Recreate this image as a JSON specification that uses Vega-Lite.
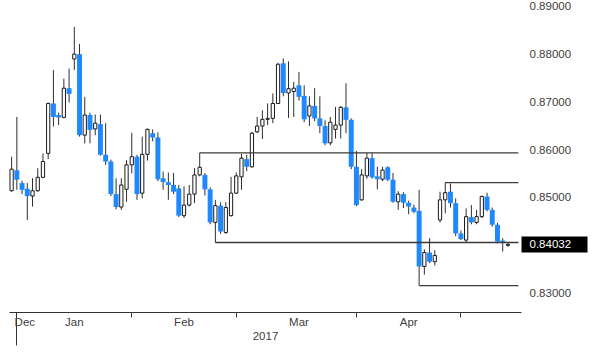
{
  "$schema": "https://vega.github.io/schema/vega-lite/v6.json",
  "width": 512,
  "height": 312,
  "autosize": {"type": "none"},
  "padding": {"left": 9, "top": 0, "right": 79, "bottom": 41},
  "background": "white",
  "config": {"view": {"stroke": null}, "font": "Liberation Sans"},
  "datasets": {
    "candles": [
      {"date": "2016-12-29", "open": 0.8515, "high": 0.8586, "low": 0.8513, "close": 0.8560},
      {"date": "2016-12-30", "open": 0.8558, "high": 0.8669, "low": 0.8517, "close": 0.8538},
      {"date": "2017-01-02", "open": 0.8531, "high": 0.8536, "low": 0.8508, "close": 0.8517},
      {"date": "2017-01-03", "open": 0.8519, "high": 0.8531, "low": 0.8454, "close": 0.8504},
      {"date": "2017-01-04", "open": 0.8504, "high": 0.8541, "low": 0.8482, "close": 0.8515},
      {"date": "2017-01-05", "open": 0.8515, "high": 0.8562, "low": 0.8513, "close": 0.8543},
      {"date": "2017-01-06", "open": 0.8543, "high": 0.8593, "low": 0.8541, "close": 0.8576},
      {"date": "2017-01-09", "open": 0.8593, "high": 0.8699, "low": 0.8581, "close": 0.8697},
      {"date": "2017-01-10", "open": 0.8697, "high": 0.8767, "low": 0.8649, "close": 0.8669},
      {"date": "2017-01-11", "open": 0.8673, "high": 0.8678, "low": 0.8652, "close": 0.8668},
      {"date": "2017-01-12", "open": 0.8668, "high": 0.8749, "low": 0.8666, "close": 0.8729},
      {"date": "2017-01-13", "open": 0.8729, "high": 0.8770, "low": 0.8699, "close": 0.8717},
      {"date": "2017-01-16", "open": 0.8790, "high": 0.8857, "low": 0.8767, "close": 0.8800},
      {"date": "2017-01-17", "open": 0.8800, "high": 0.8821, "low": 0.8628, "close": 0.8631},
      {"date": "2017-01-18", "open": 0.8631, "high": 0.8711, "low": 0.8614, "close": 0.8673},
      {"date": "2017-01-19", "open": 0.8673, "high": 0.8678, "low": 0.8614, "close": 0.8642},
      {"date": "2017-01-20", "open": 0.8644, "high": 0.8674, "low": 0.8631, "close": 0.8656},
      {"date": "2017-01-23", "open": 0.8654, "high": 0.8674, "low": 0.8588, "close": 0.8590},
      {"date": "2017-01-24", "open": 0.8590, "high": 0.8656, "low": 0.8569, "close": 0.8576},
      {"date": "2017-01-25", "open": 0.8576, "high": 0.8580, "low": 0.8504, "close": 0.8508},
      {"date": "2017-01-26", "open": 0.8508, "high": 0.8541, "low": 0.8476, "close": 0.8481},
      {"date": "2017-01-27", "open": 0.8481, "high": 0.8541, "low": 0.8475, "close": 0.8527},
      {"date": "2017-01-30", "open": 0.8518, "high": 0.8579, "low": 0.8492, "close": 0.8569},
      {"date": "2017-01-31", "open": 0.8569, "high": 0.8636, "low": 0.8551, "close": 0.8586},
      {"date": "2017-02-01", "open": 0.8586, "high": 0.8590, "low": 0.8496, "close": 0.8508},
      {"date": "2017-02-02", "open": 0.8510, "high": 0.8628, "low": 0.8499, "close": 0.8591},
      {"date": "2017-02-03", "open": 0.8591, "high": 0.8645, "low": 0.8578, "close": 0.8643},
      {"date": "2017-02-06", "open": 0.8635, "high": 0.8643, "low": 0.8618, "close": 0.8626},
      {"date": "2017-02-07", "open": 0.8626, "high": 0.8637, "low": 0.8535, "close": 0.8539},
      {"date": "2017-02-08", "open": 0.8541, "high": 0.8555, "low": 0.8517, "close": 0.8533},
      {"date": "2017-02-09", "open": 0.8533, "high": 0.8553, "low": 0.8496, "close": 0.8527},
      {"date": "2017-02-10", "open": 0.8527, "high": 0.8552, "low": 0.8508, "close": 0.8513},
      {"date": "2017-02-13", "open": 0.8520, "high": 0.8527, "low": 0.8460, "close": 0.8463},
      {"date": "2017-02-14", "open": 0.8463, "high": 0.8524, "low": 0.8458, "close": 0.8485},
      {"date": "2017-02-15", "open": 0.8485, "high": 0.8527, "low": 0.8482, "close": 0.8508},
      {"date": "2017-02-16", "open": 0.8508, "high": 0.8562, "low": 0.8489, "close": 0.8548},
      {"date": "2017-02-17", "open": 0.8548, "high": 0.8594, "low": 0.8545, "close": 0.8564},
      {"date": "2017-02-20", "open": 0.8548, "high": 0.8552, "low": 0.8505, "close": 0.8518},
      {"date": "2017-02-21", "open": 0.8518, "high": 0.8522, "low": 0.8445, "close": 0.8449},
      {"date": "2017-02-22", "open": 0.8449, "high": 0.8496, "low": 0.8407, "close": 0.8484},
      {"date": "2017-02-23", "open": 0.8484, "high": 0.8491, "low": 0.8425, "close": 0.8430},
      {"date": "2017-02-24", "open": 0.8428, "high": 0.8491, "low": 0.8425, "close": 0.8480},
      {"date": "2017-02-27", "open": 0.8463, "high": 0.8544, "low": 0.8461, "close": 0.8510},
      {"date": "2017-02-28", "open": 0.8510, "high": 0.8553, "low": 0.8508, "close": 0.8546},
      {"date": "2017-03-01", "open": 0.8544, "high": 0.8592, "low": 0.8517, "close": 0.8583},
      {"date": "2017-03-02", "open": 0.8581, "high": 0.8590, "low": 0.8556, "close": 0.8565},
      {"date": "2017-03-03", "open": 0.8565, "high": 0.8638, "low": 0.8563, "close": 0.8635},
      {"date": "2017-03-06", "open": 0.8638, "high": 0.8669, "low": 0.8635, "close": 0.8650},
      {"date": "2017-03-07", "open": 0.8650, "high": 0.8683, "low": 0.8623, "close": 0.8664},
      {"date": "2017-03-08", "open": 0.8664, "high": 0.8697, "low": 0.8652, "close": 0.8666},
      {"date": "2017-03-09", "open": 0.8666, "high": 0.8718, "low": 0.8656, "close": 0.8697},
      {"date": "2017-03-10", "open": 0.8697, "high": 0.8782, "low": 0.8696, "close": 0.8779},
      {"date": "2017-03-13", "open": 0.8781, "high": 0.8791, "low": 0.8712, "close": 0.8719},
      {"date": "2017-03-14", "open": 0.8719, "high": 0.8785, "low": 0.8667, "close": 0.8728},
      {"date": "2017-03-15", "open": 0.8722, "high": 0.8742, "low": 0.8669, "close": 0.8729},
      {"date": "2017-03-16", "open": 0.8735, "high": 0.8763, "low": 0.8703, "close": 0.8711},
      {"date": "2017-03-17", "open": 0.8713, "high": 0.8735, "low": 0.8658, "close": 0.8664},
      {"date": "2017-03-20", "open": 0.8671, "high": 0.8712, "low": 0.8650, "close": 0.8692},
      {"date": "2017-03-21", "open": 0.8692, "high": 0.8729, "low": 0.8660, "close": 0.8666},
      {"date": "2017-03-22", "open": 0.8666, "high": 0.8712, "low": 0.8635, "close": 0.8650},
      {"date": "2017-03-23", "open": 0.8650, "high": 0.8662, "low": 0.8610, "close": 0.8614},
      {"date": "2017-03-24", "open": 0.8615, "high": 0.8669, "low": 0.8610, "close": 0.8658},
      {"date": "2017-03-27", "open": 0.8643, "high": 0.8690, "low": 0.8624, "close": 0.8652},
      {"date": "2017-03-28", "open": 0.8652, "high": 0.8692, "low": 0.8624, "close": 0.8689},
      {"date": "2017-03-29", "open": 0.8689, "high": 0.8739, "low": 0.8635, "close": 0.8663},
      {"date": "2017-03-30", "open": 0.8663, "high": 0.8666, "low": 0.8560, "close": 0.8565},
      {"date": "2017-03-31", "open": 0.8565, "high": 0.8598, "low": 0.8483, "close": 0.8485},
      {"date": "2017-04-03", "open": 0.8496, "high": 0.8560, "low": 0.8494, "close": 0.8548},
      {"date": "2017-04-04", "open": 0.8546, "high": 0.8594, "low": 0.8540, "close": 0.8583},
      {"date": "2017-04-05", "open": 0.8583, "high": 0.8594, "low": 0.8540, "close": 0.8543},
      {"date": "2017-04-06", "open": 0.8545, "high": 0.8565, "low": 0.8518, "close": 0.8539},
      {"date": "2017-04-07", "open": 0.8539, "high": 0.8565, "low": 0.8535, "close": 0.8558},
      {"date": "2017-04-10", "open": 0.8564, "high": 0.8566, "low": 0.8535, "close": 0.8538},
      {"date": "2017-04-11", "open": 0.8538, "high": 0.8552, "low": 0.8490, "close": 0.8492},
      {"date": "2017-04-12", "open": 0.8492, "high": 0.8514, "low": 0.8475, "close": 0.8508},
      {"date": "2017-04-13", "open": 0.8508, "high": 0.8512, "low": 0.8479, "close": 0.8490},
      {"date": "2017-04-14", "open": 0.8490, "high": 0.8494, "low": 0.8466, "close": 0.8482},
      {"date": "2017-04-17", "open": 0.8480, "high": 0.8486, "low": 0.8468, "close": 0.8471},
      {"date": "2017-04-18", "open": 0.8473, "high": 0.8517, "low": 0.8317, "close": 0.8357},
      {"date": "2017-04-19", "open": 0.8357, "high": 0.8393, "low": 0.8340, "close": 0.8386},
      {"date": "2017-04-20", "open": 0.8386, "high": 0.8416, "low": 0.8364, "close": 0.8367},
      {"date": "2017-04-21", "open": 0.8367, "high": 0.8391, "low": 0.8359, "close": 0.8380},
      {"date": "2017-04-24", "open": 0.8454, "high": 0.8513, "low": 0.8449, "close": 0.8496},
      {"date": "2017-04-25", "open": 0.8496, "high": 0.8532, "low": 0.8468, "close": 0.8511},
      {"date": "2017-04-26", "open": 0.8513, "high": 0.8530, "low": 0.8480, "close": 0.8489},
      {"date": "2017-04-27", "open": 0.8489, "high": 0.8499, "low": 0.8420, "close": 0.8426},
      {"date": "2017-04-28", "open": 0.8426, "high": 0.8432, "low": 0.8412, "close": 0.8414},
      {"date": "2017-05-01", "open": 0.8412, "high": 0.8478, "low": 0.8408, "close": 0.8461},
      {"date": "2017-05-02", "open": 0.8460, "high": 0.8485, "low": 0.8445, "close": 0.8449},
      {"date": "2017-05-03", "open": 0.8449, "high": 0.8475, "low": 0.8445, "close": 0.8461},
      {"date": "2017-05-04", "open": 0.8461, "high": 0.8505, "low": 0.8458, "close": 0.8503},
      {"date": "2017-05-05", "open": 0.8503, "high": 0.8511, "low": 0.8472, "close": 0.8475},
      {"date": "2017-05-08", "open": 0.8475, "high": 0.8480, "low": 0.8440, "close": 0.8444},
      {"date": "2017-05-09", "open": 0.8444, "high": 0.8448, "low": 0.8405, "close": 0.8409},
      {"date": "2017-05-10", "open": 0.8411, "high": 0.8416, "low": 0.8388, "close": 0.8406},
      {"date": "2017-05-11", "open": 0.8401, "high": 0.8408, "low": 0.8398, "close": 0.84032}
    ],
    "levels": [
      {"date": "2017-02-17", "end": "2017-05-15", "level": 0.8594},
      {"date": "2017-02-22", "end": "2017-05-15", "level": 0.8407},
      {"date": "2017-04-25", "end": "2017-05-15", "level": 0.8532},
      {"date": "2017-04-18", "end": "2017-05-15", "level": 0.8317}
    ]
  },
  "encoding": {
    "x": {
      "field": "date",
      "type": "ordinal",
      "scale": {
        "paddingInner": 0,
        "paddingOuter": 0,
        "domain": ["2016-12-29","2016-12-30",
          "2017-01-02","2017-01-03","2017-01-04","2017-01-05","2017-01-06","2017-01-09","2017-01-10","2017-01-11","2017-01-12","2017-01-13","2017-01-16","2017-01-17","2017-01-18","2017-01-19","2017-01-20","2017-01-23","2017-01-24","2017-01-25","2017-01-26","2017-01-27","2017-01-30","2017-01-31",
          "2017-02-01","2017-02-02","2017-02-03","2017-02-06","2017-02-07","2017-02-08","2017-02-09","2017-02-10","2017-02-13","2017-02-14","2017-02-15","2017-02-16","2017-02-17","2017-02-20","2017-02-21","2017-02-22","2017-02-23","2017-02-24","2017-02-27","2017-02-28",
          "2017-03-01","2017-03-02","2017-03-03","2017-03-06","2017-03-07","2017-03-08","2017-03-09","2017-03-10","2017-03-13","2017-03-14","2017-03-15","2017-03-16","2017-03-17","2017-03-20","2017-03-21","2017-03-22","2017-03-23","2017-03-24","2017-03-27","2017-03-28","2017-03-29","2017-03-30","2017-03-31",
          "2017-04-03","2017-04-04","2017-04-05","2017-04-06","2017-04-07","2017-04-10","2017-04-11","2017-04-12","2017-04-13","2017-04-14","2017-04-17","2017-04-18","2017-04-19","2017-04-20","2017-04-21","2017-04-24","2017-04-25","2017-04-26","2017-04-27","2017-04-28",
          "2017-05-01","2017-05-02","2017-05-03","2017-05-04","2017-05-05","2017-05-08","2017-05-09","2017-05-10","2017-05-11","2017-05-12","2017-05-15"]
      },
      "axis": {
        "values": ["2016-12-29","2016-12-30","2017-01-16","2017-01-31","2017-02-14","2017-02-28","2017-03-16","2017-03-31","2017-04-14","2017-04-28"],
        "labelExpr": "datum.value == '2016-12-29' ? 'Dec' : datum.value == '2017-01-16' ? 'Jan' : datum.value == '2017-02-14' ? 'Feb' : datum.value == '2017-03-16' ? 'Mar' : datum.value == '2017-04-14' ? 'Apr' : ''",
        "labelAngle": 0,
        "labelAlign": {"condition": {"test": "datum.value == '2016-12-29'", "value": "left"}, "value": "center"},
        "labelOffset": {"condition": {"test": "datum.value == '2016-12-29'", "value": 3}, "value": 0},
        "labelBaseline": "top",
        "labelPadding": 4,
        "labelFontSize": 11.5,
        "labelColor": "#404040",
        "labelOverlap": false,
        "tickSize": {"condition": [{"test": "datum.value == '2016-12-30'", "value": 33}, {"test": "indexof(['2017-01-31','2017-02-28','2017-03-31','2017-04-28'], datum.value) >= 0", "value": 5}], "value": 0},
        "tickColor": "#333333",
        "tickWidth": 1,
        "domainColor": "#333333",
        "domainWidth": 1,
        "grid": false,
        "title": "2017",
        "titleFontSize": 11.5,
        "titleFontWeight": "normal",
        "titleColor": "#404040",
        "titleY": 24,
        "titleBaseline": "middle"
      }
    }
  },
  "layer": [
    {
      "data": {"name": "candles"},
      "mark": {"type": "rule", "color": "#2e2e2e", "strokeWidth": 1},
      "encoding": {
        "y": {
          "field": "low",
          "type": "quantitative",
          "scale": {"domain": [0.8262, 0.8913], "nice": false, "zero": false},
          "axis": {
            "orient": "right",
            "values": [0.83, 0.84032, 0.85, 0.86, 0.87, 0.88, 0.89],
            "format": ".5f",
            "domain": false,
            "grid": false,
            "title": null,
            "tickSize": 66,
            "tickWidth": 16,
            "tickColor": {"condition": {"test": "abs(datum.value - 0.84032) < 0.000001", "value": "#000000"}, "value": "transparent"},
            "labelPadding": -58,
            "labelAlign": "left",
            "labelBaseline": "middle",
            "labelFontSize": 11.5,
            "labelColor": {"condition": {"test": "abs(datum.value - 0.84032) < 0.000001", "value": "#ffffff"}, "value": "#404040"},
            "labelOverlap": false
          }
        },
        "y2": {"field": "high"}
      }
    },
    {
      "data": {"name": "candles"},
      "transform": [{"filter": "datum.close < datum.open"}],
      "mark": {"type": "bar", "color": "#1e88ff", "width": {"band": 0.95}},
      "encoding": {
        "y": {"field": "open", "type": "quantitative", "scale": {"domain": [0.8262, 0.8913], "nice": false, "zero": false},
          "axis": {
            "orient": "right",
            "values": [0.83, 0.84032, 0.85, 0.86, 0.87, 0.88, 0.89],
            "format": ".5f",
            "domain": false,
            "grid": false,
            "title": null,
            "tickSize": 66,
            "tickWidth": 16,
            "tickColor": {"condition": {"test": "abs(datum.value - 0.84032) < 0.000001", "value": "#000000"}, "value": "transparent"},
            "labelPadding": -58,
            "labelAlign": "left",
            "labelBaseline": "middle",
            "labelFontSize": 11.5,
            "labelColor": {"condition": {"test": "abs(datum.value - 0.84032) < 0.000001", "value": "#ffffff"}, "value": "#404040"},
            "labelOverlap": false
          }},
        "y2": {"field": "close"}
      }
    },
    {
      "data": {"name": "candles"},
      "transform": [{"filter": "datum.close >= datum.open"}],
      "mark": {"type": "bar", "fill": "#ffffff", "stroke": "#1a1a1a", "strokeWidth": 1, "width": {"band": 0.62}},
      "encoding": {
        "y": {"field": "open", "type": "quantitative", "scale": {"domain": [0.8262, 0.8913], "nice": false, "zero": false},
          "axis": {
            "orient": "right",
            "values": [0.83, 0.84032, 0.85, 0.86, 0.87, 0.88, 0.89],
            "format": ".5f",
            "domain": false,
            "grid": false,
            "title": null,
            "tickSize": 66,
            "tickWidth": 16,
            "tickColor": {"condition": {"test": "abs(datum.value - 0.84032) < 0.000001", "value": "#000000"}, "value": "transparent"},
            "labelPadding": -58,
            "labelAlign": "left",
            "labelBaseline": "middle",
            "labelFontSize": 11.5,
            "labelColor": {"condition": {"test": "abs(datum.value - 0.84032) < 0.000001", "value": "#ffffff"}, "value": "#404040"},
            "labelOverlap": false
          }},
        "y2": {"field": "close"}
      }
    },
    {
      "data": {"name": "levels"},
      "mark": {"type": "rule", "color": "#3a3a3a", "strokeWidth": 1.3},
      "encoding": {
        "x2": {"field": "end"},
        "y": {"field": "level", "type": "quantitative", "scale": {"domain": [0.8262, 0.8913], "nice": false, "zero": false},
          "axis": {
            "orient": "right",
            "values": [0.83, 0.84032, 0.85, 0.86, 0.87, 0.88, 0.89],
            "format": ".5f",
            "domain": false,
            "grid": false,
            "title": null,
            "tickSize": 66,
            "tickWidth": 16,
            "tickColor": {"condition": {"test": "abs(datum.value - 0.84032) < 0.000001", "value": "#000000"}, "value": "transparent"},
            "labelPadding": -58,
            "labelAlign": "left",
            "labelBaseline": "middle",
            "labelFontSize": 11.5,
            "labelColor": {"condition": {"test": "abs(datum.value - 0.84032) < 0.000001", "value": "#ffffff"}, "value": "#404040"},
            "labelOverlap": false
          }}
      }
    }
  ]
}
